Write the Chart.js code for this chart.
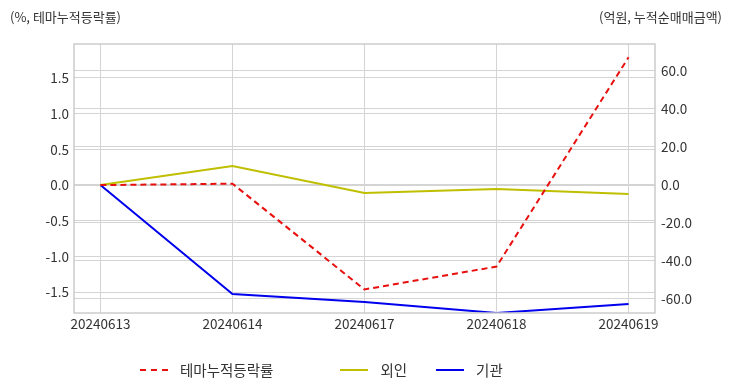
<!DOCTYPE html>
<html>
<head>
<meta charset="utf-8">
<script src="https://cdn.jsdelivr.net/npm/chart.js@4.4.0/dist/chart.umd.min.js"></script>
<style>
  body { margin: 0; background: #fff; font-family: "Noto Sans CJK KR", "Noto Sans", sans-serif; }
  #wrap { position: relative; width: 732px; height: 392px; }
  .axis-title { position: absolute; top: 7px; font-size: 13px; color: #333; }
  #legend { position: absolute; top: 359px; left: 140px; font-size: 14.5px; color: #333; display: flex; align-items: center; }
  #legend .item { display: flex; align-items: center; }
  #legend .swatch { width: 28px; height: 0; margin-right: 12px; }
</style>
</head>
<body>
<div id="wrap">
  <canvas id="chart" width="732" height="392"></canvas>
  <div class="axis-title" style="left:10px;">(%, 테마누적등락률)</div>
  <div class="axis-title" style="right:10px;">(억원, 누적순매매금액)</div>
  <div id="legend"></div>
</div>
<script>
// dates on the x axis
var dates = ['20240613', '20240614', '20240617', '20240618', '20240619'];
// theme cumulative change (%), left axis
var themeRate = [0.0, 0.02, -1.46, -1.14, 1.79];
// cumulative net buying (100M won), right axis
var foreign = [0.0, 10.0, -4.2, -2.1, -4.7];
var institution = [0.0, -57.4, -61.6, -67.4, -62.6];

var names = ['테마누적등락률', '외인', '기관'];
var colors = ['#e8100f', '#bfbf00', '#0000ee'];

function pts(arr) {
    return arr.map(function (v, i) { return { x: i, y: v }; });
}

// border round the plot area
var frame = {
    id: 'frame',
    afterDraw: function (chart) {
        var a = chart.chartArea, c = chart.ctx;
        c.save();
        c.strokeStyle = '#cccccc';
        c.lineWidth = 1.5;
        c.strokeRect(a.left, a.top, a.right - a.left, a.bottom - a.top);
        c.restore();
    }
};

var tickFont = { family: '"Noto Sans CJK KR", "Noto Sans", sans-serif', size: 13.5 };

var ctx = document.getElementById('chart').getContext('2d');
var myChart = new Chart(ctx, {
    type: 'line',
    data: {
        datasets: [{
            label: names[0],
            data: pts(themeRate),
            yAxisID: 'y',
            borderColor: colors[0],
            borderDash: [6, 4],
            borderWidth: 2,
            pointRadius: 0,
            tension: 0
        }, {
            label: names[1],
            data: pts(foreign),
            yAxisID: 'y1',
            borderColor: colors[1],
            borderWidth: 2,
            pointRadius: 0,
            tension: 0
        }, {
            label: names[2],
            data: pts(institution),
            yAxisID: 'y1',
            borderColor: colors[2],
            borderWidth: 2,
            pointRadius: 0,
            tension: 0
        }]
    },
    options: {
        responsive: false,
        animation: false,
        layout: { padding: { top: 44, bottom: 0, left: 0, right: 0 } },
        plugins: { legend: { display: false }, tooltip: { enabled: false } },
        scales: {
            x: {
                type: 'linear',
                min: -0.2,
                max: 4.2,
                grid: { color: '#d4d4d4', drawTicks: false },
                border: { display: false },
                afterFit: function (s) { s.height = 79; },
                ticks: {
                    stepSize: 1,
                    includeBounds: false,
                    autoSkip: false,
                    maxRotation: 0,
                    padding: 3,
                    color: '#333',
                    font: tickFont,
                    callback: function (v) { return dates[v]; }
                }
            },
            y: {
                position: 'left',
                min: -1.79,
                max: 1.975,
                grid: { color: '#d4d4d4', drawTicks: false },
                border: { display: false },
                afterFit: function (s) { s.width = 74; },
                ticks: {
                    stepSize: 0.5,
                    includeBounds: false,
                    padding: 5,
                    color: '#333',
                    font: tickFont,
                    callback: function (v) { return v.toFixed(1); }
                }
            },
            y1: {
                position: 'right',
                min: -67.4,
                max: 74.2,
                grid: { color: '#d4d4d4', drawTicks: false },
                border: { display: false },
                afterFit: function (s) { s.width = 77; },
                ticks: {
                    stepSize: 20,
                    includeBounds: false,
                    padding: 6,
                    color: '#333',
                    font: tickFont,
                    callback: function (v) { return v.toFixed(1); }
                }
            }
        }
    },
    plugins: [frame]
});

// legend below the chart
var gaps = [67, 29, 0];
var legend = document.getElementById('legend');
names.forEach(function (n, i) {
    var item = document.createElement('div');
    item.className = 'item';
    item.style.marginRight = gaps[i] + 'px';
    var sw = document.createElement('div');
    sw.className = 'swatch';
    sw.style.borderTop = '2px ' + (i === 0 ? 'dashed ' : 'solid ') + colors[i];
    var t = document.createElement('span');
    t.textContent = n;
    item.appendChild(sw);
    item.appendChild(t);
    legend.appendChild(item);
});
</script>
</body>
</html>
